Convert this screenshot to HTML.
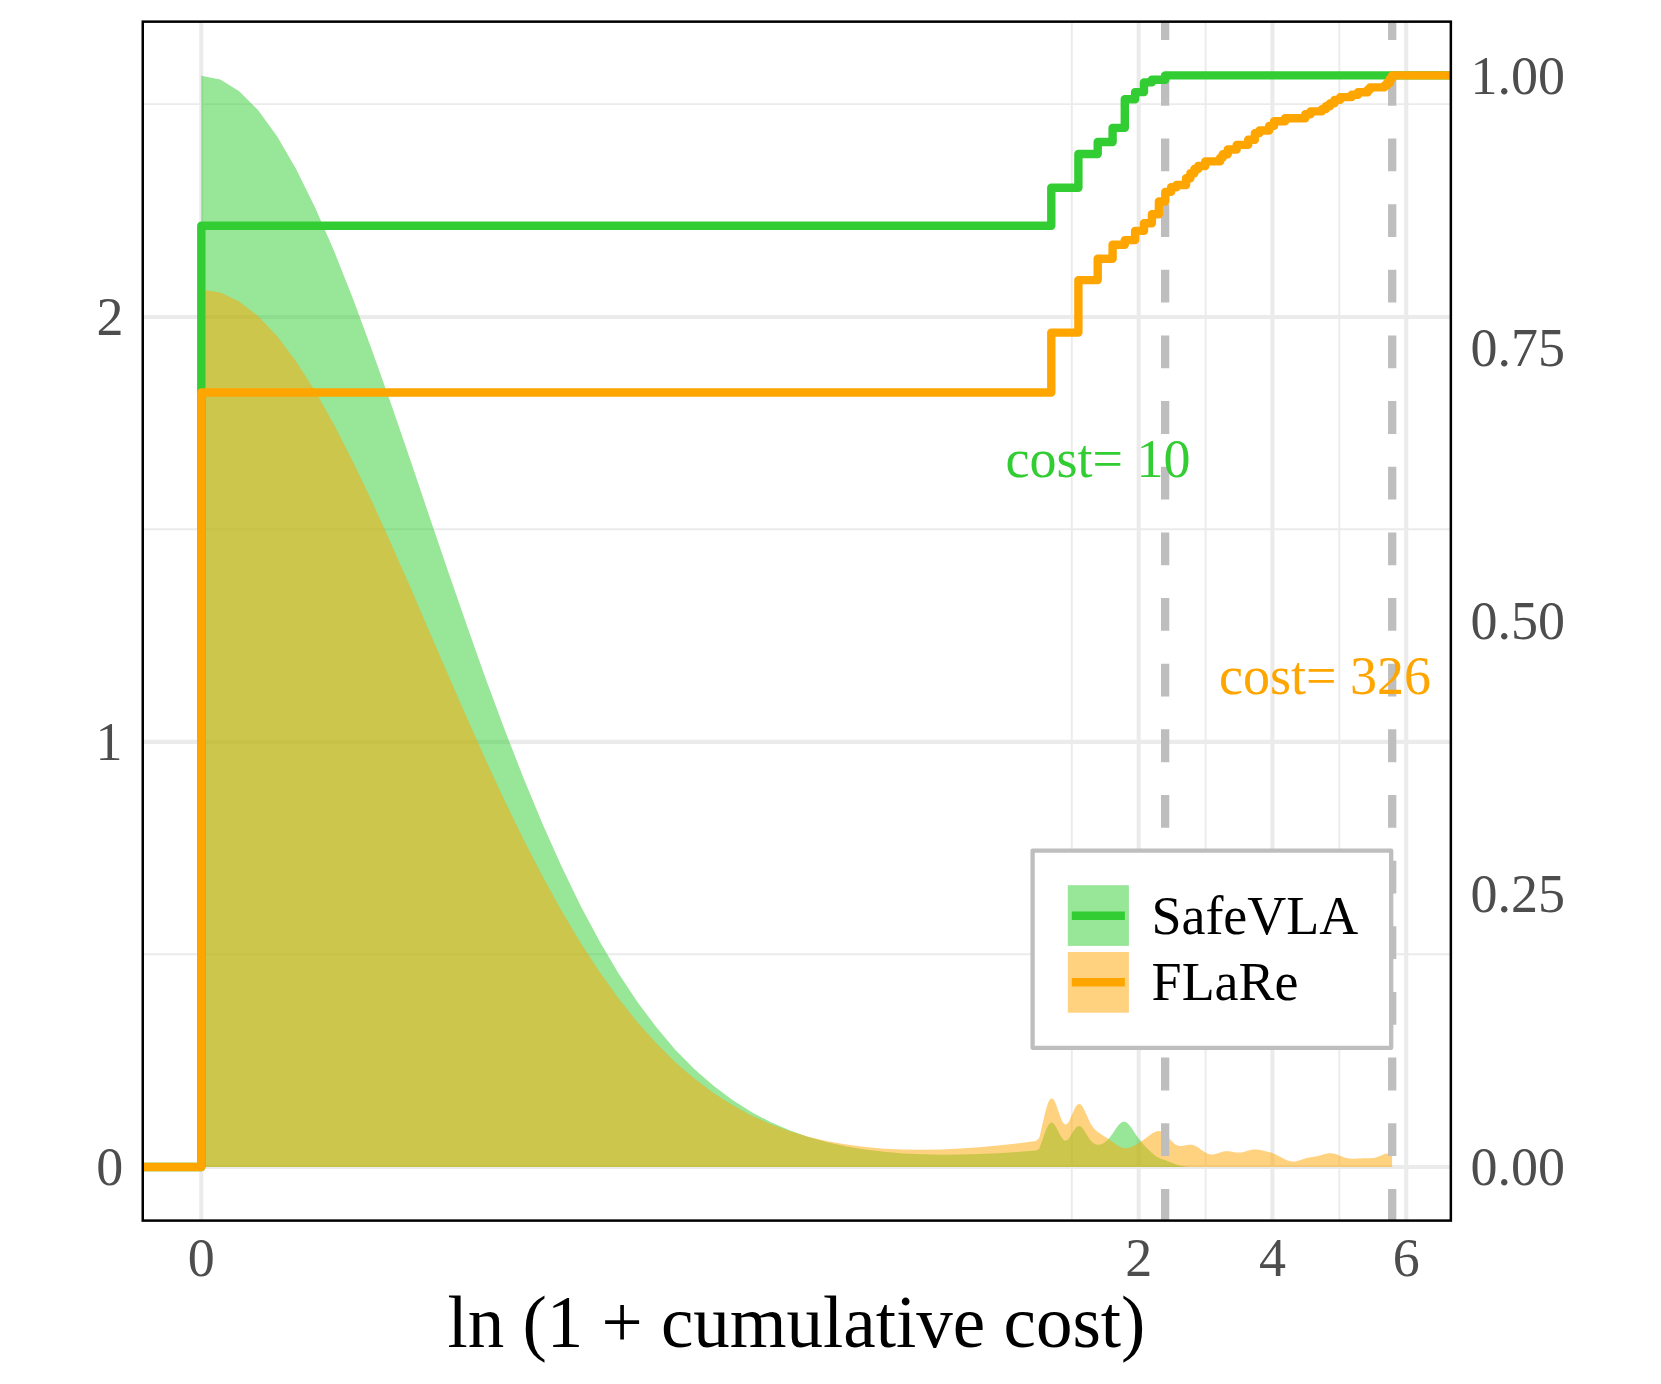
<!DOCTYPE html>
<html lang="en"><head><meta charset="utf-8"><title>ln (1 + cumulative cost)</title>
<style>html,body{margin:0;padding:0;background:#fff}svg{display:block}</style></head>
<body>
<svg width="1661" height="1384" viewBox="0 0 1661 1384">
<rect width="1661" height="1384" fill="#fff"/>
<defs><clipPath id="pc"><rect x="142.75" y="21.65" width="1308.1" height="1198.9499999999998"/></clipPath></defs>
<g clip-path="url(#pc)">
<line x1="142.75" x2="1450.85" y1="104.1" y2="104.1" stroke="#ebebeb" stroke-width="1.9"/>
<line x1="142.75" x2="1450.85" y1="529.2" y2="529.2" stroke="#ebebeb" stroke-width="1.9"/>
<line x1="142.75" x2="1450.85" y1="954.2" y2="954.2" stroke="#ebebeb" stroke-width="1.9"/>
<line x1="1071.8" x2="1071.8" y1="21.65" y2="1220.6" stroke="#ebebeb" stroke-width="1.9"/>
<line x1="1205.6" x2="1205.6" y1="21.65" y2="1220.6" stroke="#ebebeb" stroke-width="1.9"/>
<line x1="1339.3" x2="1339.3" y1="21.65" y2="1220.6" stroke="#ebebeb" stroke-width="1.9"/>
<line x1="142.75" x2="1450.85" y1="317.0" y2="317.0" stroke="#ebebeb" stroke-width="4.1"/>
<line x1="142.75" x2="1450.85" y1="741.9" y2="741.9" stroke="#ebebeb" stroke-width="4.1"/>
<line x1="142.75" x2="1450.85" y1="1167.0" y2="1167.0" stroke="#ebebeb" stroke-width="4.1"/>
<line x1="201.3" x2="201.3" y1="21.65" y2="1220.6" stroke="#ebebeb" stroke-width="4.1"/>
<line x1="1138.7" x2="1138.7" y1="21.65" y2="1220.6" stroke="#ebebeb" stroke-width="4.1"/>
<line x1="1272.4" x2="1272.4" y1="21.65" y2="1220.6" stroke="#ebebeb" stroke-width="4.1"/>
<line x1="1406.2" x2="1406.2" y1="21.65" y2="1220.6" stroke="#ebebeb" stroke-width="4.1"/>
<path d="M201.3,1167.0 L201.3,75.7 L220.3,79.6 L239.2,91.2 L258.2,110.3 L277.2,136.4 L296.1,169.0 L315.1,207.5 L334.1,251.1 L353.1,299.0 L372.0,350.2 L391.0,403.8 L410.0,459.0 L428.9,514.9 L447.9,570.7 L466.9,625.6 L485.8,678.9 L504.8,730.1 L523.8,778.7 L542.8,824.4 L561.7,866.8 L580.7,905.9 L599.7,941.4 L618.6,973.5 L637.6,1002.2 L656.6,1027.6 L675.5,1049.9 L694.5,1069.2 L713.5,1085.8 L732.5,1100.0 L751.4,1112.0 L770.4,1122.0 L789.4,1130.2 L808.3,1136.9 L827.3,1142.2 L846.3,1146.4 L865.2,1149.5 L884.2,1151.8 L903.2,1153.4 L922.2,1154.3 L941.1,1154.7 L960.1,1154.6 L979.1,1154.0 L998.0,1153.2 L1017.0,1152.0 L1036.0,1150.6 L1039.1,1148.9 L1039.8,1147.1 L1040.6,1145.1 L1041.3,1143.0 L1042.1,1140.9 L1042.8,1138.7 L1043.6,1136.5 L1044.4,1134.3 L1045.1,1132.2 L1045.9,1130.3 L1046.6,1128.5 L1047.4,1126.9 L1048.2,1125.5 L1048.9,1124.3 L1049.7,1123.5 L1050.4,1122.9 L1051.2,1122.6 L1051.9,1122.6 L1052.7,1122.8 L1053.5,1123.4 L1054.2,1124.2 L1055.0,1125.2 L1055.7,1126.4 L1056.5,1127.8 L1057.2,1129.2 L1058.0,1130.8 L1058.8,1132.3 L1059.5,1133.8 L1060.3,1135.3 L1061.0,1136.6 L1061.8,1137.8 L1062.5,1138.8 L1063.3,1139.6 L1064.1,1140.2 L1064.8,1140.5 L1065.6,1140.6 L1066.3,1140.5 L1067.1,1140.1 L1067.9,1139.5 L1068.6,1138.7 L1069.4,1137.7 L1070.1,1136.6 L1070.9,1135.4 L1071.6,1134.1 L1072.4,1132.8 L1073.2,1131.6 L1073.9,1130.3 L1074.7,1129.2 L1075.4,1128.2 L1076.2,1127.4 L1076.9,1126.8 L1077.7,1126.3 L1078.5,1126.1 L1079.2,1126.1 L1080.0,1126.2 L1080.7,1126.6 L1081.5,1127.2 L1082.2,1128.0 L1083.0,1128.9 L1083.8,1129.9 L1084.5,1131.1 L1085.3,1132.3 L1086.0,1133.5 L1086.8,1134.8 L1087.6,1136.0 L1088.3,1137.2 L1089.1,1138.4 L1089.8,1139.4 L1090.6,1140.4 L1091.3,1141.3 L1092.1,1142.1 L1092.9,1142.8 L1093.6,1143.3 L1094.4,1143.8 L1095.1,1144.2 L1095.9,1144.4 L1096.6,1144.6 L1097.4,1144.7 L1098.2,1144.8 L1098.9,1144.7 L1099.7,1144.6 L1100.4,1144.5 L1101.2,1144.3 L1101.9,1144.0 L1102.7,1143.6 L1103.5,1143.2 L1104.2,1142.8 L1105.0,1142.2 L1105.7,1141.6 L1106.5,1141.0 L1107.3,1140.3 L1108.0,1139.5 L1108.8,1138.7 L1109.5,1137.8 L1110.3,1136.8 L1111.0,1135.8 L1111.8,1134.8 L1112.6,1133.7 L1113.3,1132.6 L1114.1,1131.5 L1114.8,1130.3 L1115.6,1129.2 L1116.3,1128.1 L1117.1,1127.1 L1117.9,1126.1 L1118.6,1125.1 L1119.4,1124.3 L1120.1,1123.6 L1120.9,1122.9 L1121.6,1122.4 L1122.4,1122.0 L1123.2,1121.8 L1123.9,1121.7 L1124.7,1121.7 L1125.4,1122.0 L1126.2,1122.3 L1127.0,1122.8 L1127.7,1123.4 L1128.5,1124.2 L1129.2,1125.0 L1130.0,1125.9 L1130.7,1127.0 L1131.5,1128.0 L1132.3,1129.1 L1133.0,1130.3 L1133.8,1131.5 L1134.5,1132.6 L1135.3,1133.8 L1136.0,1134.9 L1136.8,1136.0 L1137.6,1137.1 L1138.3,1138.1 L1139.1,1139.1 L1139.8,1140.1 L1140.6,1141.1 L1141.3,1142.0 L1142.1,1142.8 L1142.9,1143.7 L1143.6,1144.5 L1144.4,1145.4 L1145.1,1146.2 L1145.9,1147.0 L1146.7,1147.8 L1147.4,1148.6 L1148.2,1149.3 L1148.9,1150.1 L1149.7,1150.8 L1150.4,1151.6 L1151.2,1152.3 L1152.0,1153.0 L1152.7,1153.6 L1153.5,1154.2 L1154.2,1154.8 L1155.0,1155.4 L1155.7,1155.9 L1156.5,1156.4 L1157.3,1156.9 L1158.0,1157.3 L1158.8,1157.7 L1159.5,1158.0 L1160.3,1158.4 L1161.0,1158.7 L1161.8,1159.0 L1162.6,1159.3 L1163.3,1159.5 L1164.1,1159.8 L1164.8,1160.1 L1165.6,1160.3 L1166.4,1160.6 L1167.1,1160.9 L1167.9,1161.2 L1168.6,1161.4 L1169.4,1161.7 L1170.1,1162.0 L1170.9,1162.4 L1171.7,1162.7 L1172.4,1163.0 L1173.2,1163.3 L1173.9,1163.6 L1174.7,1163.9 L1175.4,1164.2 L1176.2,1164.5 L1177.0,1164.7 L1177.7,1165.0 L1178.5,1165.2 L1179.2,1165.4 L1180.0,1165.6 L1180.7,1165.8 L1181.5,1166.0 L1182.3,1166.1 L1183.0,1166.3 L1183.8,1166.4 L1184.5,1166.5 L1185.3,1166.6 L1186.1,1166.6 L1186.8,1166.7 L1187.6,1166.8 L1188.3,1166.8 L1189.1,1166.8 L1189.8,1166.9 L1190.6,1166.9 L1191.4,1166.9 L1192.1,1166.9 L1192.1,1167.0 Z" fill="#32cd32" fill-opacity="0.5"/>
<path d="M201.3,1167.0 L201.3,289.6 L220.3,292.6 L239.2,301.5 L258.2,316.2 L277.2,336.3 L296.1,361.4 L315.1,391.1 L334.1,424.8 L353.1,461.9 L372.0,501.6 L391.0,543.4 L410.0,586.6 L428.9,630.4 L447.9,674.3 L466.9,717.7 L485.8,760.0 L504.8,800.9 L523.8,839.9 L542.8,876.7 L561.7,911.1 L580.7,942.9 L599.7,972.1 L618.6,998.6 L637.6,1022.4 L656.6,1043.6 L675.5,1062.4 L694.5,1078.8 L713.5,1092.9 L732.5,1105.1 L751.4,1115.4 L770.4,1123.9 L789.4,1131.0 L808.3,1136.7 L827.3,1141.2 L846.3,1144.6 L865.2,1147.1 L884.2,1148.7 L903.2,1149.6 L922.2,1149.8 L941.1,1149.5 L960.1,1148.6 L979.1,1147.3 L998.0,1145.5 L1017.0,1143.4 L1036.0,1141.0 L1039.1,1138.3 L1039.8,1135.4 L1040.6,1132.4 L1041.3,1129.1 L1042.1,1125.8 L1042.8,1122.5 L1043.6,1119.2 L1044.4,1115.9 L1045.1,1112.8 L1045.9,1109.9 L1046.6,1107.3 L1047.4,1104.9 L1048.2,1102.8 L1048.9,1101.1 L1049.7,1099.8 L1050.4,1098.9 L1051.2,1098.4 L1051.9,1098.4 L1052.7,1098.8 L1053.5,1099.5 L1054.2,1100.6 L1055.0,1102.1 L1055.7,1103.8 L1056.5,1105.7 L1057.2,1107.8 L1058.0,1110.0 L1058.8,1112.2 L1059.5,1114.4 L1060.3,1116.5 L1061.0,1118.5 L1061.8,1120.2 L1062.5,1121.7 L1063.3,1122.9 L1064.1,1123.7 L1064.8,1124.3 L1065.6,1124.4 L1066.3,1124.3 L1067.1,1123.8 L1067.9,1123.0 L1068.6,1121.9 L1069.4,1120.5 L1070.1,1119.0 L1070.9,1117.3 L1071.6,1115.5 L1072.4,1113.7 L1073.2,1111.9 L1073.9,1110.2 L1074.7,1108.6 L1075.4,1107.2 L1076.2,1106.0 L1076.9,1105.0 L1077.7,1104.4 L1078.5,1104.0 L1079.2,1103.9 L1080.0,1104.1 L1080.7,1104.5 L1081.5,1105.3 L1082.2,1106.3 L1083.0,1107.5 L1083.8,1108.9 L1084.5,1110.4 L1085.3,1112.0 L1086.0,1113.7 L1086.8,1115.4 L1087.6,1117.1 L1088.3,1118.8 L1089.1,1120.4 L1089.8,1122.0 L1090.6,1123.4 L1091.3,1124.7 L1092.1,1125.9 L1092.9,1127.0 L1093.6,1128.0 L1094.4,1128.9 L1095.1,1129.7 L1095.9,1130.4 L1096.6,1131.1 L1097.4,1131.7 L1098.2,1132.2 L1098.9,1132.8 L1099.7,1133.3 L1100.4,1133.7 L1101.2,1134.2 L1101.9,1134.7 L1102.7,1135.2 L1103.5,1135.7 L1104.2,1136.2 L1105.0,1136.7 L1105.7,1137.2 L1106.5,1137.7 L1107.3,1138.2 L1108.0,1138.7 L1108.8,1139.3 L1109.5,1139.8 L1110.3,1140.3 L1111.0,1140.8 L1111.8,1141.4 L1112.6,1141.9 L1113.3,1142.5 L1114.1,1143.0 L1114.8,1143.5 L1115.6,1144.0 L1116.3,1144.6 L1117.1,1145.1 L1117.9,1145.5 L1118.6,1146.0 L1119.4,1146.4 L1120.1,1146.8 L1120.9,1147.2 L1121.6,1147.5 L1122.4,1147.8 L1123.2,1148.0 L1123.9,1148.2 L1124.7,1148.3 L1125.4,1148.3 L1126.2,1148.3 L1127.0,1148.3 L1127.7,1148.2 L1128.5,1148.0 L1129.2,1147.8 L1130.0,1147.6 L1130.7,1147.3 L1131.5,1147.0 L1132.3,1146.6 L1133.0,1146.3 L1133.8,1145.9 L1134.5,1145.5 L1135.3,1145.0 L1136.0,1144.6 L1136.8,1144.2 L1137.6,1143.7 L1138.3,1143.2 L1139.1,1142.8 L1139.8,1142.3 L1140.6,1141.8 L1141.3,1141.3 L1142.1,1140.8 L1142.9,1140.3 L1143.6,1139.8 L1144.4,1139.2 L1145.1,1138.7 L1145.9,1138.1 L1146.7,1137.6 L1147.4,1137.0 L1148.2,1136.4 L1148.9,1135.8 L1149.7,1135.3 L1150.4,1134.7 L1151.2,1134.1 L1152.0,1133.6 L1152.7,1133.1 L1153.5,1132.7 L1154.2,1132.3 L1155.0,1131.9 L1155.7,1131.6 L1156.5,1131.4 L1157.3,1131.2 L1158.0,1131.1 L1158.8,1131.1 L1159.5,1131.2 L1160.3,1131.3 L1161.0,1131.6 L1161.8,1131.9 L1162.6,1132.3 L1163.3,1132.8 L1164.1,1133.3 L1164.8,1134.0 L1165.6,1134.7 L1166.4,1135.4 L1167.1,1136.2 L1167.9,1137.0 L1168.6,1137.8 L1169.4,1138.7 L1170.1,1139.5 L1170.9,1140.4 L1171.7,1141.2 L1172.4,1141.9 L1173.2,1142.6 L1173.9,1143.3 L1174.7,1143.9 L1175.4,1144.4 L1176.2,1144.9 L1177.0,1145.3 L1177.7,1145.6 L1178.5,1145.8 L1179.2,1146.0 L1180.0,1146.1 L1180.7,1146.1 L1181.5,1146.1 L1182.3,1146.0 L1183.0,1145.9 L1183.8,1145.7 L1184.5,1145.6 L1185.3,1145.4 L1186.1,1145.2 L1186.8,1145.1 L1187.6,1144.9 L1188.3,1144.8 L1189.1,1144.7 L1189.8,1144.7 L1190.6,1144.7 L1191.4,1144.7 L1192.1,1144.8 L1192.9,1145.0 L1193.6,1145.2 L1194.4,1145.5 L1195.1,1145.8 L1195.9,1146.2 L1196.7,1146.6 L1197.4,1147.1 L1198.2,1147.6 L1198.9,1148.1 L1199.7,1148.6 L1200.4,1149.2 L1201.2,1149.7 L1202.0,1150.3 L1202.7,1150.8 L1203.5,1151.3 L1204.2,1151.8 L1205.0,1152.3 L1205.8,1152.7 L1206.5,1153.1 L1207.3,1153.5 L1208.0,1153.8 L1208.8,1154.0 L1209.5,1154.2 L1210.3,1154.4 L1211.1,1154.5 L1211.8,1154.5 L1212.6,1154.5 L1213.3,1154.4 L1214.1,1154.3 L1214.8,1154.2 L1215.6,1154.0 L1216.4,1153.7 L1217.1,1153.5 L1217.9,1153.2 L1218.6,1153.0 L1219.4,1152.7 L1220.1,1152.4 L1220.9,1152.2 L1221.7,1152.0 L1222.4,1151.7 L1223.2,1151.6 L1223.9,1151.4 L1224.7,1151.3 L1225.4,1151.2 L1226.2,1151.2 L1227.0,1151.1 L1227.7,1151.2 L1228.5,1151.2 L1229.2,1151.3 L1230.0,1151.4 L1230.8,1151.5 L1231.5,1151.7 L1232.3,1151.8 L1233.0,1152.0 L1233.8,1152.1 L1234.5,1152.2 L1235.3,1152.4 L1236.1,1152.5 L1236.8,1152.6 L1237.6,1152.6 L1238.3,1152.6 L1239.1,1152.6 L1239.8,1152.6 L1240.6,1152.5 L1241.4,1152.4 L1242.1,1152.3 L1242.9,1152.2 L1243.6,1152.0 L1244.4,1151.8 L1245.1,1151.6 L1245.9,1151.3 L1246.7,1151.1 L1247.4,1150.8 L1248.2,1150.6 L1248.9,1150.4 L1249.7,1150.2 L1250.5,1150.0 L1251.2,1149.8 L1252.0,1149.7 L1252.7,1149.6 L1253.5,1149.5 L1254.2,1149.4 L1255.0,1149.4 L1255.8,1149.4 L1256.5,1149.5 L1257.3,1149.5 L1258.0,1149.6 L1258.8,1149.7 L1259.5,1149.9 L1260.3,1150.0 L1261.1,1150.2 L1261.8,1150.3 L1262.6,1150.5 L1263.3,1150.7 L1264.1,1150.8 L1264.8,1151.0 L1265.6,1151.2 L1266.4,1151.4 L1267.1,1151.5 L1267.9,1151.7 L1268.6,1151.9 L1269.4,1152.1 L1270.2,1152.4 L1270.9,1152.6 L1271.7,1152.8 L1272.4,1153.1 L1273.2,1153.4 L1273.9,1153.7 L1274.7,1154.0 L1275.5,1154.4 L1276.2,1154.7 L1277.0,1155.1 L1277.7,1155.5 L1278.5,1155.9 L1279.2,1156.3 L1280.0,1156.7 L1280.8,1157.1 L1281.5,1157.5 L1282.3,1157.9 L1283.0,1158.3 L1283.8,1158.7 L1284.5,1159.1 L1285.3,1159.5 L1286.1,1159.8 L1286.8,1160.1 L1287.6,1160.4 L1288.3,1160.7 L1289.1,1160.9 L1289.9,1161.1 L1290.6,1161.2 L1291.4,1161.4 L1292.1,1161.4 L1292.9,1161.5 L1293.6,1161.5 L1294.4,1161.4 L1295.2,1161.4 L1295.9,1161.3 L1296.7,1161.1 L1297.4,1160.9 L1298.2,1160.7 L1298.9,1160.5 L1299.7,1160.3 L1300.5,1160.0 L1301.2,1159.8 L1302.0,1159.5 L1302.7,1159.3 L1303.5,1159.0 L1304.2,1158.8 L1305.0,1158.5 L1305.8,1158.3 L1306.5,1158.1 L1307.3,1157.9 L1308.0,1157.8 L1308.8,1157.6 L1309.6,1157.5 L1310.3,1157.3 L1311.1,1157.2 L1311.8,1157.1 L1312.6,1157.0 L1313.3,1156.9 L1314.1,1156.8 L1314.9,1156.6 L1315.6,1156.5 L1316.4,1156.3 L1317.1,1156.2 L1317.9,1156.0 L1318.6,1155.8 L1319.4,1155.6 L1320.2,1155.4 L1320.9,1155.2 L1321.7,1155.0 L1322.4,1154.7 L1323.2,1154.5 L1323.9,1154.3 L1324.7,1154.1 L1325.5,1153.9 L1326.2,1153.7 L1327.0,1153.5 L1327.7,1153.4 L1328.5,1153.3 L1329.3,1153.3 L1330.0,1153.2 L1330.8,1153.2 L1331.5,1153.3 L1332.3,1153.4 L1333.0,1153.5 L1333.8,1153.6 L1334.6,1153.8 L1335.3,1154.0 L1336.1,1154.3 L1336.8,1154.5 L1337.6,1154.8 L1338.3,1155.1 L1339.1,1155.4 L1339.9,1155.7 L1340.6,1156.0 L1341.4,1156.3 L1342.1,1156.6 L1342.9,1156.9 L1343.6,1157.2 L1344.4,1157.4 L1345.2,1157.6 L1345.9,1157.9 L1346.7,1158.0 L1347.4,1158.2 L1348.2,1158.3 L1349.0,1158.5 L1349.7,1158.5 L1350.5,1158.6 L1351.2,1158.7 L1352.0,1158.7 L1352.7,1158.7 L1353.5,1158.7 L1354.3,1158.7 L1355.0,1158.7 L1355.8,1158.6 L1356.5,1158.6 L1357.3,1158.6 L1358.0,1158.5 L1358.8,1158.5 L1359.6,1158.4 L1360.3,1158.4 L1361.1,1158.4 L1361.8,1158.3 L1362.6,1158.3 L1363.3,1158.3 L1364.1,1158.3 L1364.9,1158.3 L1365.6,1158.3 L1366.4,1158.3 L1367.1,1158.3 L1367.9,1158.3 L1368.7,1158.3 L1369.4,1158.2 L1370.2,1158.2 L1370.9,1158.2 L1371.7,1158.1 L1372.4,1158.1 L1373.2,1158.0 L1374.0,1157.9 L1374.7,1157.7 L1375.5,1157.5 L1376.2,1157.3 L1377.0,1157.1 L1377.7,1156.8 L1378.5,1156.5 L1379.3,1156.2 L1380.0,1155.9 L1380.8,1155.6 L1381.5,1155.3 L1382.3,1154.9 L1383.0,1154.6 L1383.8,1154.3 L1384.6,1154.0 L1385.3,1153.8 L1386.1,1153.6 L1386.8,1153.5 L1387.6,1153.4 L1388.4,1153.4 L1389.1,1153.5 L1389.9,1153.6 L1390.6,1153.8 L1391.4,1154.1 L1392.1,1154.4 L1392.1,1167.0 Z" fill="#ffa500" fill-opacity="0.5"/>
<line x1="1165.15" x2="1165.15" y1="1221.7" y2="-20" stroke="#bebebe" stroke-width="8.3" stroke-dasharray="32.8 32.85"/>
<line x1="1392.2" x2="1392.2" y1="1221.7" y2="-20" stroke="#bebebe" stroke-width="8.3" stroke-dasharray="32.8 32.85"/>
<path d="M137.8,1167.0 L201.3,1167.0 L201.3,225.7 L1051.3,225.7 L1051.3,187.7 L1078.4,187.7 L1078.4,154.0 L1097.7,154.0 L1097.7,142.0 L1112.6,142.0 L1112.6,127.9 L1124.8,127.9 L1124.8,99.3 L1135.1,99.3 L1135.1,92.1 L1144.0,92.1 L1144.0,82.4 L1151.9,82.4 L1151.9,79.8 L1165.3,79.8 L1165.3,75.4 L1455.8,75.4" fill="none" stroke="#32cd32" stroke-width="8.4" stroke-linejoin="round"/>
<path d="M137.8,1167.0 L201.3,1167.0 L201.3,392.5 L1051.3,392.5 L1051.3,332.6 L1078.4,332.6 L1078.4,280.1 L1097.7,280.1 L1097.7,258.7 L1112.6,258.7 L1112.6,244.7 L1124.8,244.7 L1124.8,240.1 L1135.1,240.1 L1135.1,230.9 L1144.0,230.9 L1144.0,223.2 L1151.9,223.2 L1151.9,214.2 L1158.9,214.2 L1158.9,201.5 L1165.3,201.5 L1165.3,191.9 L1171.1,191.9 L1171.1,187.2 L1176.5,187.2 L1176.5,185.0 L1186.1,185.0 L1186.1,178.3 L1190.4,178.3 L1190.4,173.2 L1194.4,173.2 L1194.4,169.0 L1198.2,169.0 L1198.2,166.0 L1205.3,166.0 L1205.3,161.4 L1220.2,161.4 L1220.2,157.6 L1222.8,157.6 L1222.8,154.2 L1227.8,154.2 L1227.8,149.5 L1236.7,149.5 L1236.7,144.9 L1248.2,144.9 L1248.2,139.8 L1254.9,139.8 L1254.9,133.1 L1259.5,133.1 L1259.5,130.5 L1269.2,130.5 L1269.2,125.9 L1274.1,125.9 L1274.1,121.2 L1285.1,121.2 L1285.1,118.3 L1305.3,118.3 L1305.3,114.2 L1310.5,114.2 L1310.5,111.4 L1321.9,111.4 L1321.9,109.1 L1325.9,109.1 L1325.9,106.2 L1329.9,106.2 L1329.9,103.4 L1334.5,103.4 L1334.5,99.9 L1340.2,99.9 L1340.2,97.1 L1351.7,97.1 L1351.7,94.8 L1358.0,94.8 L1358.0,92.2 L1367.7,92.2 L1367.7,89.6 L1370.0,89.6 L1370.0,87.4 L1384.3,87.4 L1384.3,85.6 L1387.1,85.6 L1387.1,82.8 L1390.0,82.8 L1390.0,78.6 L1392.1,78.6 L1392.1,75.4 L1455.8,75.4" fill="none" stroke="#ffa500" stroke-width="8.4" stroke-linejoin="round"/>
</g>
<g font-family="'Liberation Serif', serif" font-size="54.0">
<text x="1005.5" y="477.2" fill="#32cd32">cost= 10</text>
<text x="1219.1" y="693.9" fill="#ffa500">cost= 326</text>
</g>
<rect x="142.75" y="21.65" width="1308.1" height="1198.9499999999998" fill="none" stroke="#000" stroke-width="2.5"/>
<rect x="1032.6" y="850.6" width="358.6" height="197.2" fill="#fff" stroke="#bebebe" stroke-width="4.3" stroke-linejoin="round"/>
<rect x="1067.8" y="885.2" width="61.1" height="60.7" fill="#32cd32" fill-opacity="0.5"/>
<rect x="1067.8" y="952.0" width="61.1" height="60.7" fill="#ffa500" fill-opacity="0.5"/>
<line x1="1071.8" x2="1124.9" y1="915.8" y2="915.8" stroke="#32cd32" stroke-width="8.4"/>
<line x1="1071.8" x2="1124.9" y1="982.3" y2="982.3" stroke="#ffa500" stroke-width="8.4"/>
<g font-family="'Liberation Serif', serif" font-size="54.0" fill="#000">
<text x="1151.4" y="934.4">SafeVLA</text>
<text x="1151.6" y="1000.1">FLaRe</text>
</g>
<g font-family="'Liberation Serif', serif" font-size="54.0" fill="#4d4d4d">
<text x="123.5" y="335.1" text-anchor="end">2</text>
<text x="122.5" y="760.0" text-anchor="end">1</text>
<text x="123.2" y="1185.1" text-anchor="end">0</text>
<text x="1470.6" y="93.5">1.00</text>
<text x="1470.6" y="366.4">0.75</text>
<text x="1470.6" y="639.3">0.50</text>
<text x="1470.6" y="912.2">0.25</text>
<text x="1470.6" y="1185.1">0.00</text>
<text x="201.3" y="1275.9" text-anchor="middle">0</text>
<text x="1138.7" y="1275.9" text-anchor="middle">2</text>
<text x="1272.4" y="1275.9" text-anchor="middle">4</text>
<text x="1406.2" y="1275.9" text-anchor="middle">6</text>
</g>
<text font-family="'Liberation Serif', serif" font-size="73.0" fill="#000" x="796.4" y="1347.0" text-anchor="middle">ln (1 + cumulative cost)</text>
</svg>
</body></html>
